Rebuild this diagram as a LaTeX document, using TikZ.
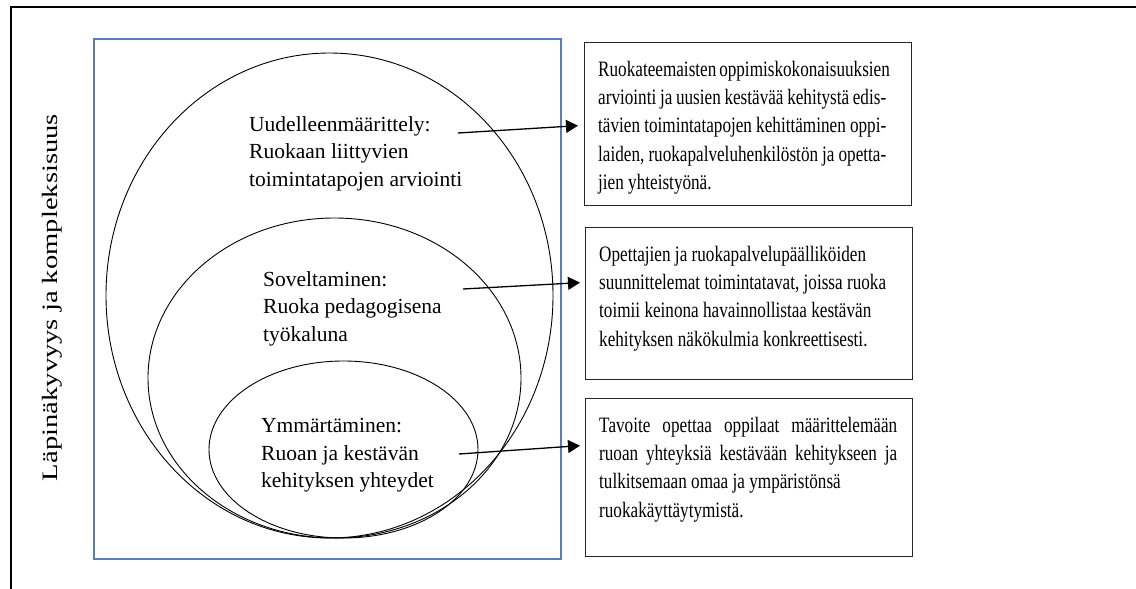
\documentclass[tikz,border=0pt]{standalone}
\usepackage{fontspec}
\setmainfont{Liberation Serif}
\newfontfamily\boxfont[FakeStretch=0.78]{Liberation Serif}
\newfontfamily\axisfont[FakeStretch=1.3]{Liberation Serif}
\usepackage{xcolor}
\usetikzlibrary{arrows.meta,positioning,shapes.geometric}
\definecolor{frameblue}{HTML}{5A7DB5}
\definecolor{boxline}{HTML}{262626}
\newcommand{\jline}[2]{\makebox[#1][s]{#2}}

\begin{document}
\begin{tikzpicture}[x=1pt, y=-1pt,
    level/.style={ellipse, draw, line width=0.9pt, inner sep=0pt},
    leveltext/.style={anchor=north west, align=left, inner sep=0pt, font=\fontsize{21.5}{27.7}\selectfont},
    infobox/.style={rectangle, draw=boxline, line width=1.3pt, anchor=north west, inner sep=0pt},
    boxtext/.style={align=left, inner sep=0pt, font=\boxfont\fontsize{22}{28.2}\selectfont},
    flow/.style={-{Triangle[length=12pt,width=13pt]}, line width=1.3pt}
]
\useasboundingbox (0,0) rectangle (1136,589);

% frame and axis label
\draw[line width=2pt] (11,589) -- (11,7) -- (1136,7);
\node[rotate=90, inner sep=0pt, font=\axisfont\fontsize{22}{26}\selectfont] (axis) at (52.5,297.5) {Läpinäkyvyys ja kompleksisuus};
\draw[frameblue, line width=1.2pt] (94,39) rectangle (561,559);

% nested levels
\node[level, minimum width=447pt, minimum height=485pt] (outer) at (329.5,295.5) {};
\node[level, minimum width=373pt, minimum height=320pt] (middle) at (334.5,378) {};
\node[level, minimum width=269pt, minimum height=177pt] (inner) at (343.5,449.5) {};

\node[leveltext] (redef) at (249,116) {Uudelleenmäärittely:\\Ruokaan liittyvien\\toimintatapojen arviointi};
\node[leveltext] (apply) at (263,271) {Soveltaminen:\\Ruoka pedagogisena\\työkaluna};
\node[leveltext] (understand) at (261,418) {Ymmärtäminen:\\Ruoan ja kestävän\\kehityksen yhteydet};

% description boxes
\node[infobox, minimum width=327pt, minimum height=163pt] (box1) at (584,42) {};
\node[infobox, minimum width=327pt, minimum height=152pt] (box2) at (585,227) {};
\node[infobox, minimum width=327pt, minimum height=158pt] (box3) at (585,398) {};

\node[boxtext, below right=19pt and 14pt of box1.north west] (box1txt) {%
    \jline{288pt}{Ruokateemaisten oppimiskokonaisuuksien}\\
    \jline{288pt}{arviointi ja uusien kestävää kehitystä edis-}\\
    \jline{288pt}{tävien toimintatapojen kehittäminen oppi-}\\
    \jline{288pt}{laiden, ruokapalveluhenkilöstön ja opetta-}\\
    jien yhteistyönä.};
\node[boxtext, below right=19pt and 14pt of box2.north west] (box2txt) {%
    Opettajien ja ruokapalvelupäälliköiden\\
    suunnittelemat toimintatavat, joissa ruoka\\
    toimii keinona havainnollistaa kestävän\\
    kehityksen näkökulmia konkreettisesti.};
\node[boxtext, below right=19pt and 14pt of box3.north west] (box3txt) {%
    \jline{298pt}{Tavoite opettaa oppilaat määrittelemään}\\
    \jline{298pt}{ruoan yhteyksiä kestävään kehitykseen ja}\\
    tulkitsemaan omaa ja ympäristönsä\\
    ruokakäyttäytymistä.};

% connectors
\coordinate (redef-out) at (458,133);
\coordinate (apply-out) at (463,289);
\coordinate (understand-out) at (459,454);
\draw[flow] (redef-out) -- ([xshift=-6pt,yshift=-1.5pt]box1.west);
\draw[flow] (apply-out) -- ([xshift=-5pt,yshift=21pt]box2.west);
\draw[flow] (understand-out) -- ([xshift=-5pt,yshift=32pt]box3.west);
\end{tikzpicture}
\end{document}
